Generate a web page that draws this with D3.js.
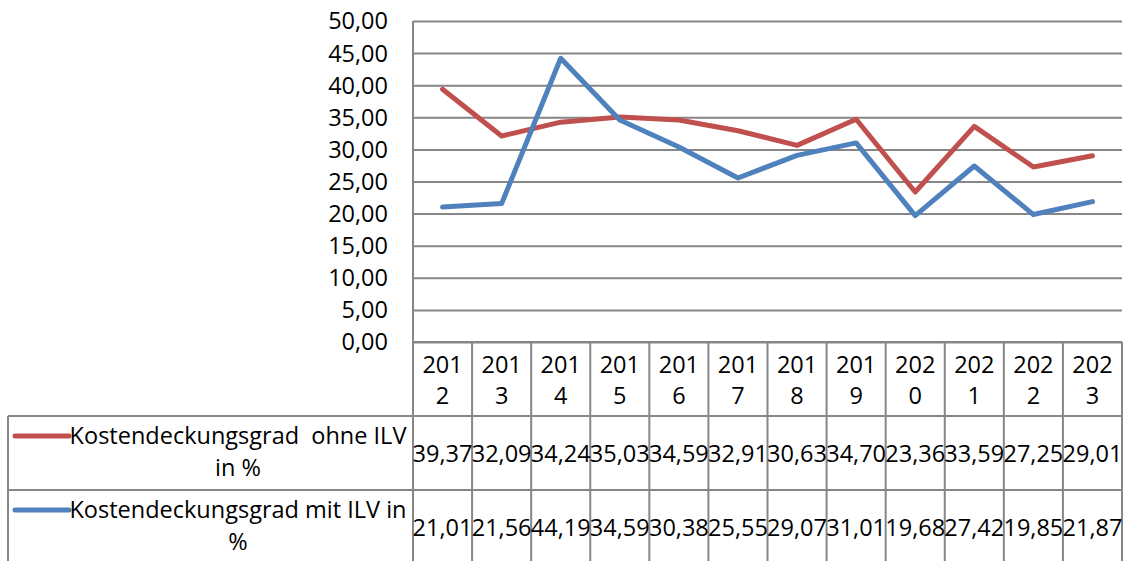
<!DOCTYPE html>
<html>
<head>
<meta charset="utf-8">
<script src="https://cdn.jsdelivr.net/npm/d3@7"></script>
<style>
  body { margin: 0; background: #fff; }
  text { font-family: "Open Sans", sans-serif; fill: #000; }
</style>
</head>
<body>
<script>
const years = ["2012","2013","2014","2015","2016","2017","2018","2019","2020","2021","2022","2023"]
const seriesNames = ["Kostendeckungsgrad  ohne ILV in %", "Kostendeckungsgrad mit ILV in %"]
const ohneILV = [39.37, 32.09, 34.24, 35.03, 34.59, 32.91, 30.63, 34.70, 23.36, 33.59, 27.25, 29.01]
const mitILV = [21.01, 21.56, 44.19, 34.59, 30.38, 25.55, 29.07, 31.01, 19.68, 27.42, 19.85, 21.87]
const yTicks = [0, 5, 10, 15, 20, 25, 30, 35, 40, 45, 50]
const colors = ["#C0504D", "#4F81BD"]

const width = 1126
const height = 561
const plot = { left: 413, right: 1122, top: 21, bottom: 342 }
const tableRows = [342, 416, 490, 561]
const legendLeft = 8
const fontSize = 23.5

const fmt = v => v.toFixed(2).replace(".", ",")

const svg = d3.select("body").append("svg")
    .attr("width", width)
    .attr("height", height)

const x = d3.scaleBand().domain(years).range([plot.left, plot.right])
const y = d3.scaleLinear().domain([0, 50]).range([plot.bottom, plot.top])

// gridlines
svg.append("g")
    .attr("transform", `translate(${plot.left},0)`)
    .call(d3.axisLeft(y).tickValues(yTicks).tickSize(-(plot.right - plot.left)).tickFormat(""))
    .call(g => g.select(".domain").remove())
    .call(g => g.selectAll("line").attr("stroke", "#868686").attr("stroke-width", 2))

// y labels
svg.append("g").selectAll("text")
    .data(yTicks)
    .join("text")
    .attr("x", 388)
    .attr("y", d => y(d))
    .attr("dy", "0.36em")
    .attr("text-anchor", "end")
    .attr("font-size", fontSize)
    .text(d => fmt(d))

// table grid
const grid = svg.append("g").attr("stroke", "#868686").attr("stroke-width", 2)
grid.selectAll("line.col")
    .data(x.domain().map(d => x(d)).concat([plot.right]))
    .join("line")
    .attr("class", "col")
    .attr("x1", d => d).attr("x2", d => d)
    .attr("y1", (d, i) => i == 0 ? plot.top : plot.bottom)
    .attr("y2", height)
grid.selectAll("line.row")
    .data(tableRows.slice(1, 3))
    .join("line")
    .attr("class", "row")
    .attr("x1", legendLeft).attr("x2", plot.right)
    .attr("y1", d => d).attr("y2", d => d)
grid.append("line")
    .attr("x1", legendLeft).attr("x2", legendLeft)
    .attr("y1", tableRows[1]).attr("y2", height)
grid.append("line")
    .attr("x1", plot.left).attr("x2", plot.right)
    .attr("y1", plot.bottom).attr("y2", plot.bottom)

// year header, wrapped like the narrow cells do
const header = svg.append("g").selectAll("text")
    .data(years)
    .join("text")
    .attr("text-anchor", "middle")
    .attr("font-size", fontSize)
header.append("tspan")
    .attr("x", d => x(d) + x.bandwidth() / 2)
    .attr("y", 365)
    .attr("dy", "0.36em")
    .text(d => d.slice(0, 3))
header.append("tspan")
    .attr("x", d => x(d) + x.bandwidth() / 2)
    .attr("y", 396)
    .attr("dy", "0.36em")
    .text(d => d.slice(3))

// lines
const line = d3.line()
    .x((d, i) => x(years[i]) + x.bandwidth() / 2)
    .y(d => y(d))

const allSeries = [ohneILV, mitILV]
svg.append("g").selectAll("path")
    .data(allSeries)
    .join("path")
    .attr("fill", "none")
    .attr("stroke", (d, i) => colors[i])
    .attr("stroke-width", 5)
    .attr("stroke-linejoin", "round")
    .attr("stroke-linecap", "round")
    .attr("d", d => line(d))

// value rows + legend
allSeries.forEach((vals, r) => {
    const top = tableRows[r + 1]
    svg.append("g").selectAll("text")
        .data(vals)
        .join("text")
        .attr("x", (d, i) => x(years[i]) + x.bandwidth() / 2)
        .attr("y", top + 38)
        .attr("dy", "0.36em")
        .attr("text-anchor", "middle")
        .attr("font-size", fontSize)
        .text(d => fmt(d))

    svg.append("line")
        .attr("x1", 15).attr("x2", 69)
        .attr("y1", top + 20).attr("y2", top + 20)
        .attr("stroke", colors[r])
        .attr("stroke-width", 5)
        .attr("stroke-linecap", "round")

    const label = svg.append("text")
        .attr("text-anchor", "middle")
        .attr("font-size", fontSize)
        .style("white-space", "pre")
    const words = seriesNames[r].split(" ")
    const lines = []
    let cur = ""
    const probe = svg.append("text").attr("font-size", fontSize).style("white-space", "pre")
    words.forEach(w => {
        const test = cur === "" ? w : cur + " " + w
        probe.text(test)
        if (probe.node().getComputedTextLength() > 338 && cur !== "") {
            lines.push(cur)
            cur = w
        } else {
            cur = test
        }
    })
    lines.push(cur)
    probe.remove()
    lines.forEach((t, k) => {
        label.append("tspan")
            .attr("x", 238)
            .attr("y", top + 20 + k * 32)
            .attr("dy", "0.36em")
            .text(t)
    })
})
</script>
</body>
</html>
